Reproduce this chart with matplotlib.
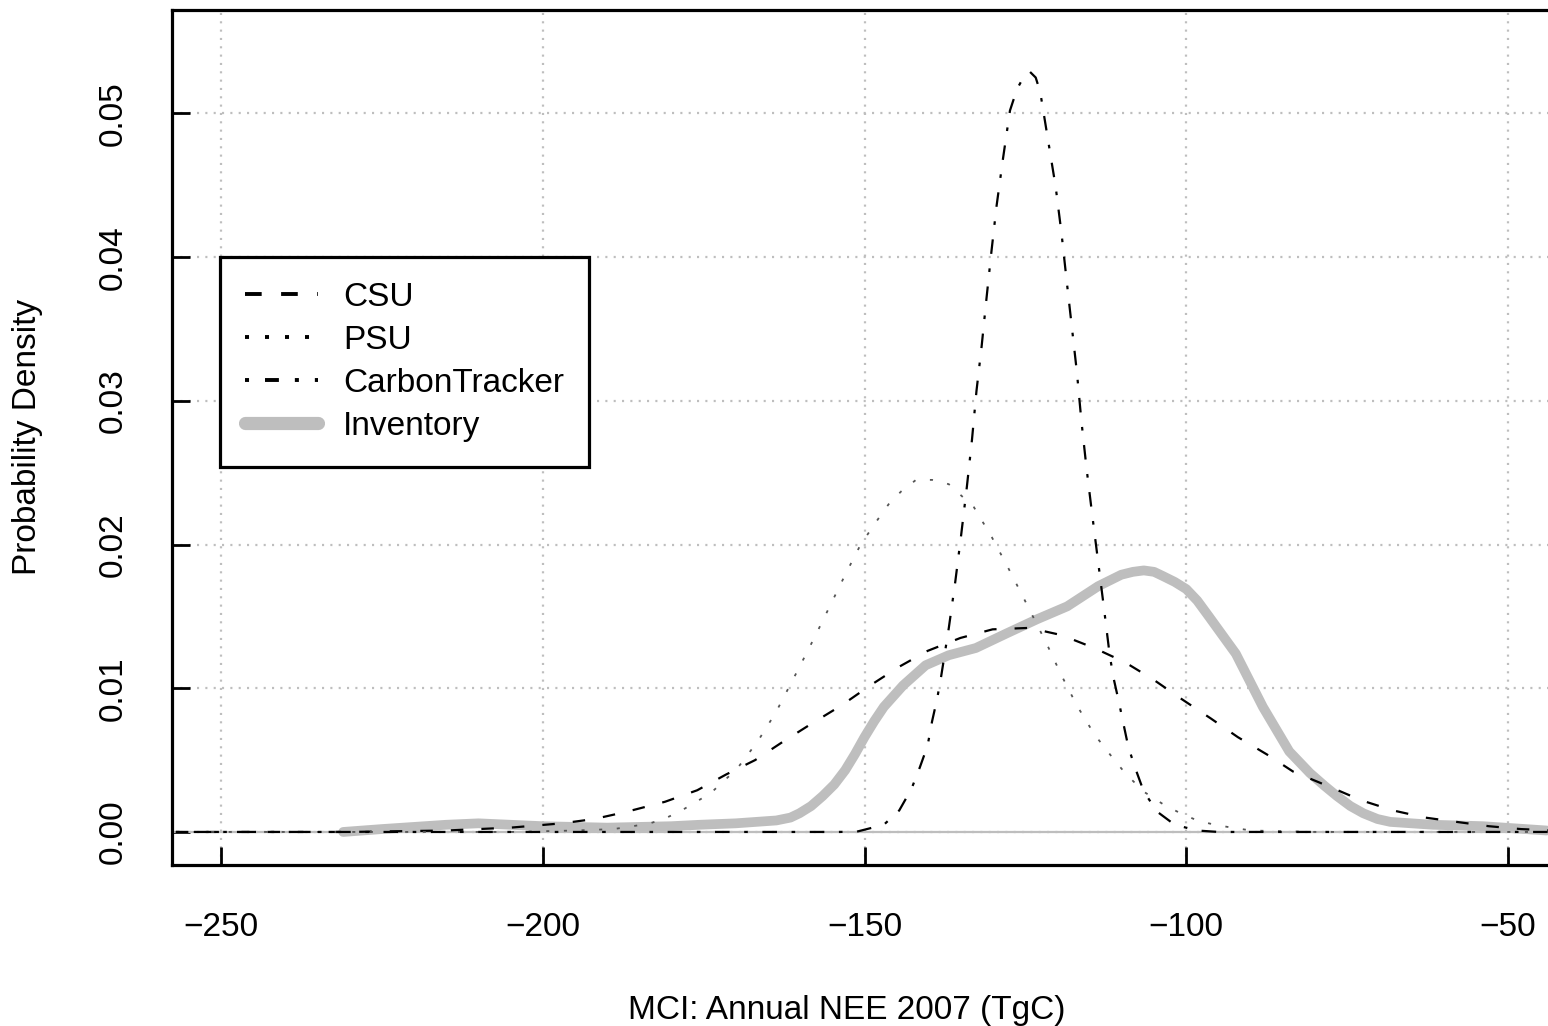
import matplotlib
matplotlib.use("Agg")
import matplotlib.pyplot as plt
from matplotlib.lines import Line2D

plt.rcParams['font.family'] = ['Liberation Sans', 'DejaVu Sans']
plt.rcParams['lines.scale_dashes'] = False

# densities (x in TgC, y = probability density)
csu_x = [-257, -230, -215, -205, -197, -192, -187, -181, -176, -171.5, -167, -162.6,
         -158, -153.6, -149.1, -144.6, -140.2, -135.1, -130.1, -124.4, -119.4, -114.3,
         -109.5, -105.1, -100.9, -96.2, -92, -87.5, -83.4, -77.5, -72.8, -67.9, -62.9,
         -58, -53, -48, -43]
csu_y = [0, 0.0000, 0.0001, 0.0003, 0.0006, 0.0009, 0.0014, 0.0021, 0.0029, 0.0040,
         0.0050, 0.0063, 0.0076, 0.0088, 0.0102, 0.0115, 0.0126, 0.0135, 0.0141, 0.0142,
         0.0137, 0.0128, 0.0118, 0.0106, 0.0093, 0.0079, 0.0066, 0.0054, 0.0042, 0.0031,
         0.0022, 0.0015, 0.0010, 0.0007, 0.0004, 0.0002, 0.0001]

psu_x = [-257, -205, -195, -189, -186, -183.3, -180.7, -178.4, -173.9, -169.8, -166.6,
         -163.8, -160.2, -157.7, -155.4, -153, -150.6, -147.7, -146.1, -144.3, -142,
         -139.5, -136.9, -133, -130.2, -127.7, -125.3, -121.7, -119.4, -117, -114.3,
         -111, -109.3, -106.6, -103.5, -100.9, -98.3, -95.6, -92.9, -89.9, -80, -43]
psu_y = [0, 0, 0.0001, 0.0002, 0.0004, 0.0006, 0.0010, 0.0015, 0.0027, 0.0044, 0.0063,
         0.0083, 0.0114, 0.0136, 0.0157, 0.0179, 0.0200, 0.0219, 0.0229, 0.0237, 0.0245,
         0.0245, 0.0242, 0.0226, 0.0205, 0.0184, 0.0163, 0.0131, 0.0109, 0.0088, 0.0068,
         0.0049, 0.0040, 0.0028, 0.0019, 0.0013, 0.0008, 0.0005, 0.0003, 0.0001, 0, 0]

ct_x = [-257, -160, -154, -151.2, -147, -144.6, -142.7, -141.4, -140.2, -139.5, -138.7,
        -138.1, -136.9, -135.9, -135, -134.1, -133.3, -132.6, -131.8, -131.1, -130.3,
        -129.5, -128.5, -127.4, -126.3, -125.2, -124.3, -123.4, -122.7, -121.5, -120.3,
        -119.4, -118.6, -117.8, -117, -116.3, -115.5, -114.6, -113.7, -112.8, -111.9,
        -111.3, -110.5, -109.8, -109, -107.9, -106.6, -104.5, -101.8, -98.3, -95, -43]
ct_y = [0, 0, 0, 0.00002, 0.0005, 0.0015, 0.0030, 0.0045, 0.0060, 0.0077, 0.0093,
        0.0108, 0.0142, 0.0174, 0.0206, 0.0240, 0.0273, 0.0307, 0.0338, 0.0369, 0.0403,
        0.0435, 0.0468, 0.0502, 0.0517, 0.0526, 0.0529, 0.0525, 0.0515, 0.0482, 0.0449,
        0.0417, 0.0384, 0.0352, 0.0320, 0.0286, 0.0253, 0.0220, 0.0188, 0.0156, 0.0123,
        0.0107, 0.0091, 0.0076, 0.0059, 0.0044, 0.0028, 0.0014, 0.0005, 0.0001, 0, 0]

inv_x = [-231, -225, -215, -210, -200, -190, -180, -175.6, -170, -163.7, -161.5, -160.1,
         -158.3, -156.5, -154.7, -153, -151.5, -150, -148.5, -147, -144, -140.5, -136.9,
         -132.7, -128, -123.2, -118.5, -113.7, -110.1, -108.3, -106.6, -105, -103.6,
         -101.8, -100, -98.3, -96.5, -92.3, -88.1, -84, -80.8, -78.5, -76.6, -74.5,
         -72.5, -70.3, -68.3, -61.7, -53.9, -44]
inv_y = [0.0000, 0.0002, 0.0005, 0.0006, 0.0004, 0.0003, 0.0004, 0.0005, 0.0006, 0.0008,
         0.0010, 0.0013, 0.0018, 0.0025, 0.0033, 0.0043, 0.0054, 0.0066, 0.0077, 0.0087,
         0.0102, 0.0116, 0.0123, 0.0128, 0.0138, 0.0148, 0.0157, 0.0171, 0.0179, 0.0181,
         0.0182, 0.0181, 0.0178, 0.0174, 0.0169, 0.0161, 0.0150, 0.0124, 0.0087, 0.0056,
         0.0041, 0.0032, 0.0025, 0.0018, 0.0013, 0.0009, 0.0007, 0.0005, 0.0004, 0.0001]

labels = ['CSU', 'PSU', 'CarbonTracker', 'Inventory']
x_ticks = [-250, -200, -150, -100, -50]
y_ticks = [0.00, 0.01, 0.02, 0.03, 0.04, 0.05]

grey = '#BEBEBE'
dash_csu = (0, (9, 13))
dash_psu = (0, (2.2, 10.5))
dash_ct = (0, (2.6, 10.5, 10.5, 10.5))

fig = plt.figure(figsize=(15.48, 10.26), dpi=100)
ax = fig.add_axes([172 / 1548, 161 / 1026, 1376 / 1548, 855 / 1026])

ax.set_xlim(-257.6, -43.8)
ax.set_ylim(-0.0023, 0.0572)

ax.grid(True, color=grey, linestyle=(0, (1.5, 4.5)), linewidth=1.6)
ax.set_axisbelow(True)
ax.axhline(0, color=grey, linewidth=1.6, zorder=1)

ax.plot(inv_x, inv_y, color=grey, linewidth=7, solid_capstyle='round',
        solid_joinstyle='round', zorder=2)
ax.plot(csu_x, csu_y, color='black', linewidth=1.6, linestyle=dash_csu, zorder=3)
ax.plot(psu_x, psu_y, color='#555555', linewidth=1.3, linestyle=dash_psu, zorder=3)
ax.plot(ct_x, ct_y, color='black', linewidth=1.6, linestyle=dash_ct, zorder=3)

ax.set_xticks(x_ticks)
ax.set_yticks(y_ticks)
ax.set_yticklabels(['%.2f' % v for v in y_ticks])
ax.tick_params(axis='both', direction='in', length=13, width=2, labelsize=24)
ax.tick_params(axis='x', pad=34)
ax.tick_params(axis='y', pad=31, labelrotation=90)
for lab in ax.get_yticklabels():
    lab.set_va('center')

for side in ['left', 'top', 'bottom']:
    ax.spines[side].set_linewidth(2.3)
ax.spines['right'].set_visible(False)

fig.text(28 / 1548, 1 - 437 / 1026, 'Probability Density', rotation=90,
         ha='center', va='center', fontsize=24)
fig.text(847 / 1548, 1 - 1010 / 1026, 'MCI: Annual NEE 2007 (TgC)',
         ha='center', va='center', fontsize=24)

handles = [
    Line2D([], [], color='black', linewidth=2.8, linestyle=(0, (12, 14))),
    Line2D([], [], color='black', linewidth=2.8, linestyle=(0, (2.9, 11.5))),
    Line2D([], [], color='black', linewidth=2.8, linestyle=(0, (2.9, 11.5, 10, 11.5))),
    Line2D([], [], color=grey, linewidth=9.5, solid_capstyle='round'),
]
leg = ax.legend(handles, labels, loc='upper left', bbox_to_anchor=(0.0349, 0.711),
                borderaxespad=0, fontsize=24, handlelength=2.2, handletextpad=0.75,
                labelspacing=0.36, borderpad=0.75, fancybox=False, framealpha=1,
                edgecolor='black')
leg.get_frame().set_linewidth(2.3)

fig.savefig('out.png', dpi=100)
